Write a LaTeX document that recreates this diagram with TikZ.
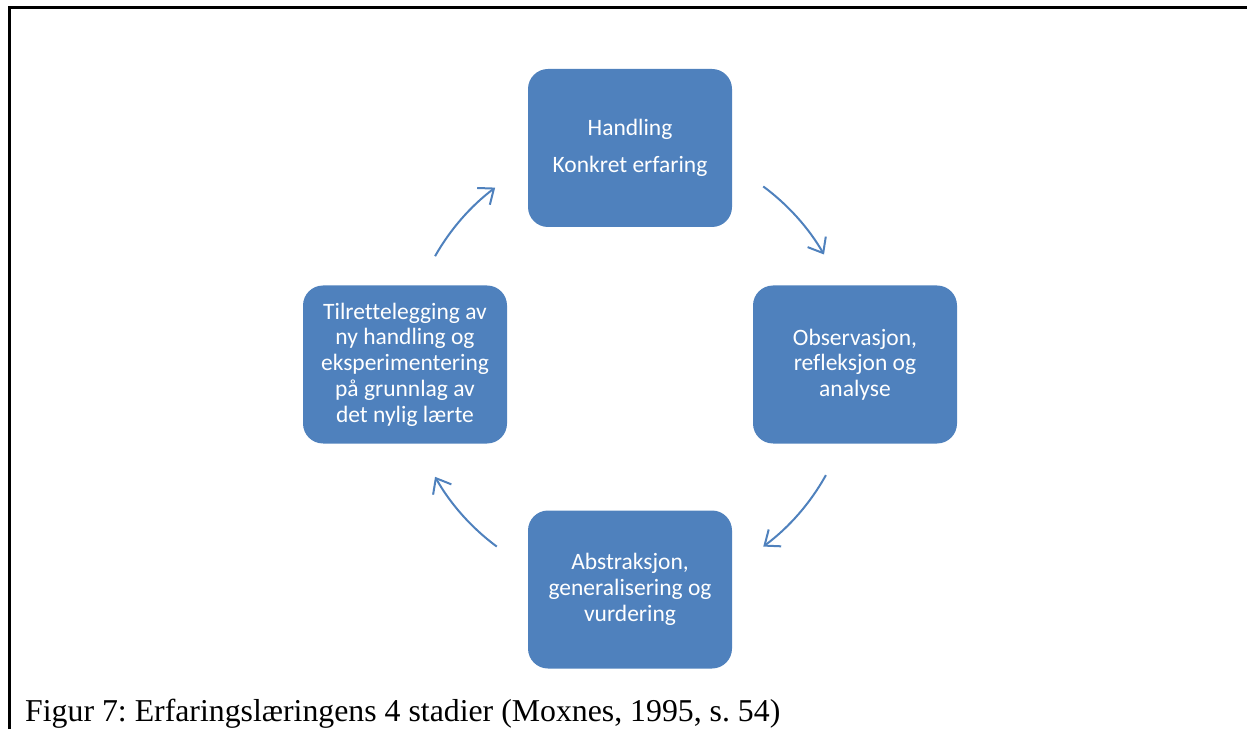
\documentclass[tikz,border=0pt]{standalone}
\usepackage{fontspec}
\setmainfont{Liberation Serif}
\newfontfamily\boxfont[Ligatures=NoCommon]{Carlito}
\usetikzlibrary{arrows.meta}
\definecolor{stageblue}{HTML}{4F81BD}
\frenchspacing
\begin{document}
\begin{tikzpicture}[x=1pt,y=1pt,
  stagebox/.style={draw=none, fill=stageblue, rounded corners=20pt,
    minimum width=204pt, minimum height=158pt, inner sep=0pt,
    text=white, align=center,
    font=\boxfont\fontsize{23.5}{25.7}\selectfont},
  cyclearrow/.style={draw=stageblue, line width=2pt,
    -{Straight Barb[length=13pt,width=21pt,line width=2pt]}},
  frameline/.style={line width=3pt, line join=miter}]
  \useasboundingbox (0,0) rectangle (1247,729);

  % frame around the figure
  \draw[frameline] (9.5,0) -- (9.5,721.5) -- (1247,721.5);

  % the four stages
  \node[stagebox] (act) at (630,581) {Handling\\[11pt]Konkret erfaring};
  \node[stagebox] (reflect) at (855,364.5) {Observasjon,\\refleksjon og\\analyse};
  \node[stagebox] (abstract) at (630,139.5) {Abstraksjon,\\generalisering og\\vurdering};
  \node[stagebox] (plan) at (405,364.5) {Tilrettelegging av\\ny handling og\\eksperimentering\\på grunnlag av\\det nylig lærte};

  % cycle arrows on a common circle
  \coordinate (hub) at (630,362.5);
  \draw[cyclearrow] ([shift={(150.5:224)}]hub) arc[start angle=150.5, end angle=127, radius=224];
  \draw[cyclearrow] ([shift={(53.5:224)}]hub) arc[start angle=53.5, end angle=30, radius=224];
  \draw[cyclearrow] ([shift={(-29:224)}]hub) arc[start angle=-29, end angle=-53.5, radius=224];
  \draw[cyclearrow] ([shift={(-126.5:224)}]hub) arc[start angle=-126.5, end angle=-150.5, radius=224];

  % caption
  \node[anchor=base west, inner sep=0pt, font=\fontsize{31.8}{36}\selectfont] (caption) at (25,7.5)
    {Figur 7: Erfaringslæringens 4 stadier (Moxnes, 1995, s. 54)};
\end{tikzpicture}
\end{document}
